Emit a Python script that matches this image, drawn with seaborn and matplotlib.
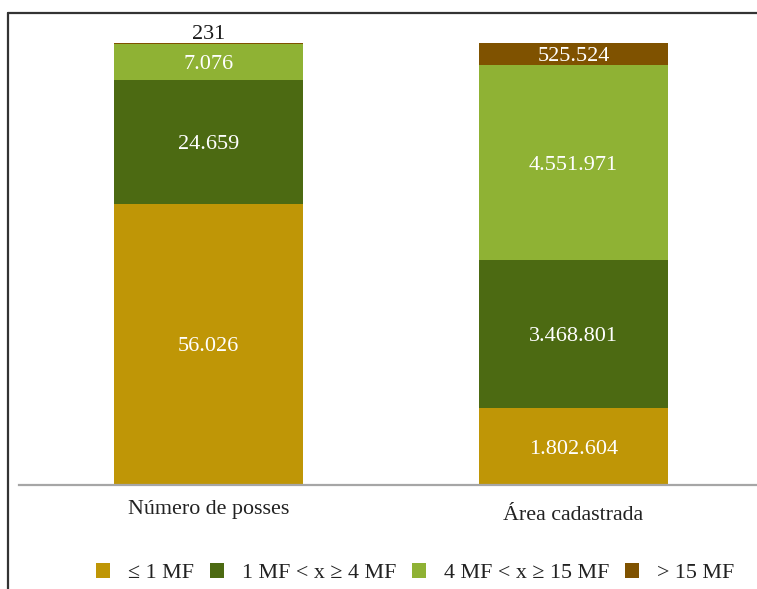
import matplotlib
matplotlib.use("Agg")
import matplotlib.pyplot as plt
import matplotlib.transforms as mtransforms
from matplotlib.patches import Patch
from matplotlib.lines import Line2D
import seaborn as sns
import pandas as pd
import numpy as np

categories = ["Número de posses", "Área cadastrada"]
series_names = ["≤ 1 MF", "1 MF < x ≥ 4 MF", "4 MF < x ≥ 15 MF", "> 15 MF"]
val_le1 = [56026, 1802604]
val_1_4 = [24659, 3468801]
val_4_15 = [7076, 4551971]
val_gt15 = [231, 525524]
colors = ["#BF9606", "#4C6A12", "#8FB234", "#7F5200"]

sns.set_theme(style="white")
plt.rcParams['font.family'] = ['Liberation Serif', 'DejaVu Serif']

series = [val_le1, val_1_4, val_4_15, val_gt15]
totals = np.sum(np.array(series, dtype=float), axis=0)

W, H = 757, 589
fig = plt.figure(figsize=(W / 100, H / 100), dpi=100)
ax_left, ax_right, ax_top, ax_bot = 19, 757, 43, 485
ax = fig.add_axes([ax_left / W, 1 - ax_bot / H, (ax_right - ax_left) / W, (ax_bot - ax_top) / H])

def fmt(v):
    return f"{v:,}".replace(",", ".")

bottom = np.zeros(len(categories))
for i, (name, vals) in enumerate(zip(series_names, series)):
    frac = np.array(vals, dtype=float) / totals
    df = pd.DataFrame({"cat": categories, "frac": frac})
    sns.barplot(data=df, x="cat", y="frac", bottom=bottom, color=colors[i],
                width=0.518, ax=ax, saturation=1, linewidth=0, errorbar=None)
    for j, (f, v) in enumerate(zip(frac, vals)):
        if i == 3 and j == 0:
            ax.text(j, bottom[j] + f + 0.008, fmt(v), ha="center", va="baseline",
                    fontsize=16, color="#1a1a1a", clip_on=False)
        else:
            ax.text(j, bottom[j] + f / 2, fmt(v), ha="center", va="center_baseline",
                    fontsize=16, color="white")
    bottom = bottom + frac

scale = 365.0
ax.set_xlim(-(208.5 - ax_left) / scale, 1 + (ax_right - 573.5) / scale)
ax.set_ylim(0, 1)
ax.set_xlabel("")
ax.set_ylabel("")
ax.set_yticks([])
for s in ["top", "right", "left"]:
    ax.spines[s].set_visible(False)
ax.spines["bottom"].set_color("#A6A6A6")
ax.spines["bottom"].set_linewidth(1.6)
ax.tick_params(axis="x", length=0, pad=11, labelsize=15.8, labelcolor="#222222")
ax.patch.set_alpha(0)
# second category label sits a little lower in the reference
lbl = ax.get_xticklabels()[1]
lbl.set_transform(lbl.get_transform() + mtransforms.ScaledTranslation(0, -6 / 100, fig.dpi_scale_trans))

# outer frame (top and left)
fig.add_artist(Line2D([8 / W, 1], [1 - 13 / H, 1 - 13 / H], transform=fig.transFigure,
                      color="#333333", lw=1.6))
fig.add_artist(Line2D([8 / W, 8 / W], [1 - 13 / H, 0], transform=fig.transFigure,
                      color="#333333", lw=1.6))

handles = [Patch(facecolor=c, edgecolor="none", label=n) for c, n in zip(colors, series_names)]
fig.legend(handles=handles, loc="center", bbox_to_anchor=(415 / W, 1 - 573 / H), ncol=4,
           frameon=False, fontsize=15.8, handlelength=0.65, handleheight=0.65,
           handletextpad=0.8, columnspacing=0.72, labelcolor="#222222")

fig.savefig("out.png", dpi=100)
